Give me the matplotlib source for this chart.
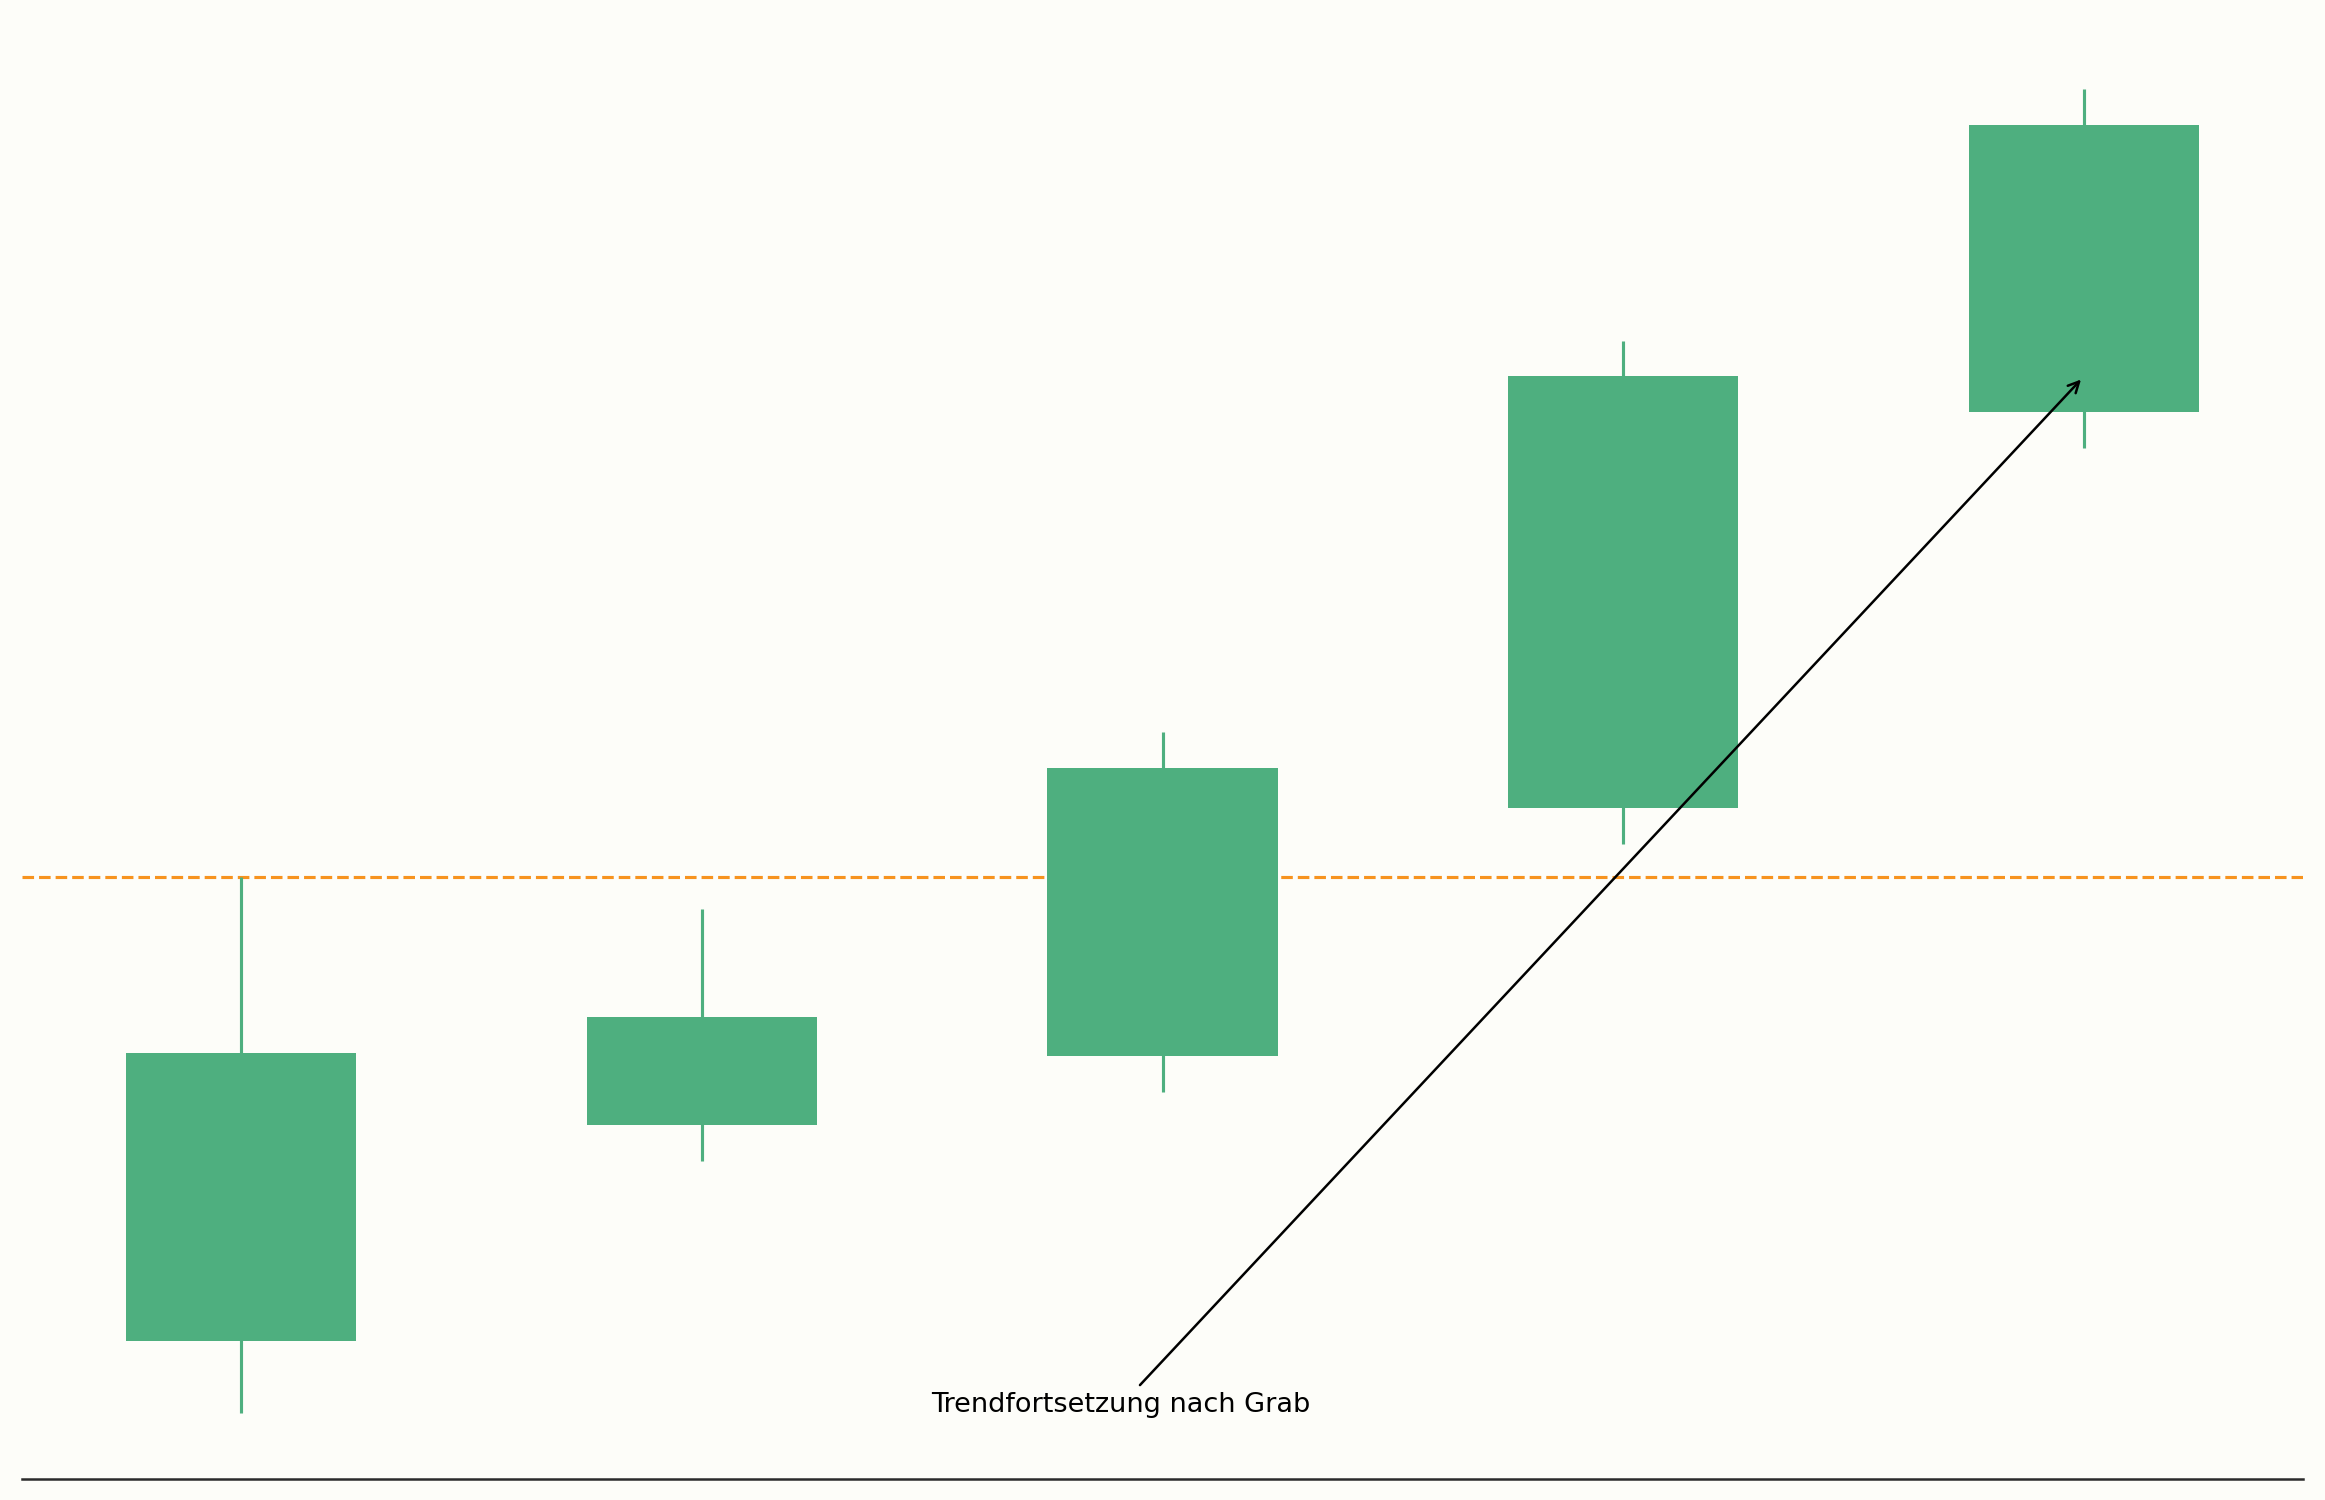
import matplotlib
matplotlib.use("Agg")
import matplotlib.pyplot as plt
import numpy as np

# Data
idx = [0, 1, 2, 3, 4]
opens = [100.0, 101.5, 101.98, 103.7, 106.45]
closes = [102.0, 102.25, 103.98, 106.7, 108.45]
lows = [99.5, 101.25, 101.73, 103.45, 106.2]
highs = [103.22, 103.0, 104.23, 106.95, 108.7]
level = 103.22
annot_text = "Trendfortsetzung nach Grab"
annot_xy = (4.0, 106.7)
annot_xytext = (1.91, 99.55)

bg = "#FDFDF9"
green = "#4EAF7F"
orange = "#F7931E"

fig = plt.figure(figsize=(15.5, 10), dpi=150, facecolor=bg)
ax = fig.add_axes([0.0096, 0.0142, 0.9808, 0.9708])
ax.set_facecolor(bg)

for i, o, c, lo, hi in zip(idx, opens, closes, lows, highs):
    ax.vlines(i, lo, hi, color=green, linewidth=1.5, zorder=1)
ax.bar(idx, np.array(closes) - np.array(opens), bottom=opens, width=0.5,
       color=green, zorder=2)

ax.axhline(level, color=orange, linestyle="--", linewidth=1.5, zorder=0)

ax.annotate(annot_text, xy=annot_xy, xytext=annot_xytext, ha="center", va="center",
            fontsize=13, color="black",
            arrowprops=dict(arrowstyle="->", color="black", lw=1.2))

ax.set_xticks([])
ax.set_yticks([])
for s in ["top", "right", "left"]:
    ax.spines[s].set_visible(False)
ax.spines["bottom"].set_color("#2b2b2b")
ax.spines["bottom"].set_linewidth(1.2)

fig.savefig("out.png", dpi=150, facecolor=bg)
